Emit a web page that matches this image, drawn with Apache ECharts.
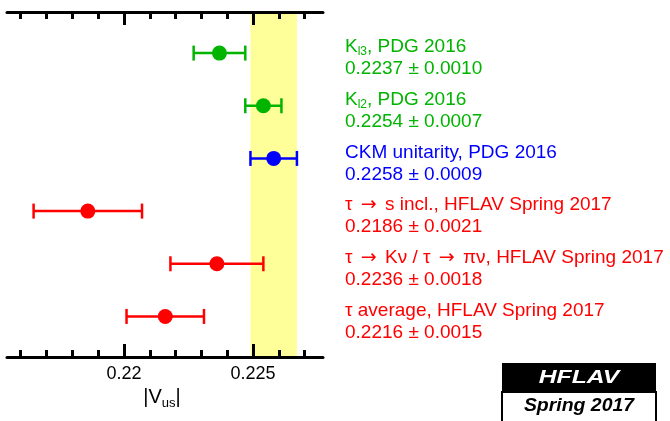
<!DOCTYPE html>
<html>
<head>
<meta charset="utf-8">
<script src="https://cdn.jsdelivr.net/npm/echarts@6/dist/echarts.min.js"></script>
<style>
  html, body { margin: 0; padding: 0; background: #fff; }
  #chart { width: 670px; height: 421px; }
</style>
</head>
<body>
<div id="chart"></div>
<script>
// measurements, top to bottom
const titles = [
    '{t|K}{s|l3}{t|, PDG 2016}',
    '{t|K}{s|l2}{t|, PDG 2016}',
    '{t|CKM unitarity, PDG 2016}',
    '{t|τ }{ar|→}{t| s incl., HFLAV Spring 2017}',
    '{t|τ }{ar|→}{t| Kν / τ }{ar|→}{t| πν, HFLAV Spring 2017}',
    '{t|τ average, HFLAV Spring 2017}'
];
const centralValues = [0.2237, 0.2254, 0.2258, 0.2186, 0.2236, 0.2216];
const errors = [0.0010, 0.0007, 0.0009, 0.0021, 0.0018, 0.0015];
const colors = ['#00b400', '#00b400', '#0000ff', '#ff0000', '#ff0000', '#ff0000'];

// band = CKM unitarity +- 1 sigma
const bandIndex = 2;

// axis ticks
const majorTicks = [0.22, 0.225];
const minorTicks = [0.216, 0.217, 0.218, 0.219, 0.221, 0.222, 0.223, 0.224, 0.226, 0.227];
const xMin = 0.21547, xMax = 0.22771;

const chart = echarts.init(document.getElementById('chart'), null, { renderer: 'canvas' });

const fontFam = '"Liberation Sans", Arial, sans-serif';
const gridBox = { left: 7, right: 347, top: 12, bottom: 64 };

function axisCfg(gridIndex, position, ticks, len, showLabel, showLine) {
    return {
        type: 'value', gridIndex: gridIndex, position: position, min: xMin, max: xMax, z: 5,
        axisLine: { show: showLine, onZero: false, lineStyle: { color: '#000', width: 3 } },
        axisTick: { show: true, inside: true, length: len, customValues: ticks, lineStyle: { color: '#000', width: 3 } },
        axisLabel: showLabel ? {
            show: true, customValues: ticks, margin: 8, color: '#000', fontSize: 18, fontFamily: fontFam,
            formatter: v => String(+v.toFixed(4))
        } : { show: false },
        splitLine: { show: false }
    };
}

const xBottom = axisCfg(0, 'bottom', majorTicks, 13, true, true);
xBottom.name = '{a||V}{s|us}{a||}';
xBottom.nameLocation = 'middle';
xBottom.nameGap = 27;
xBottom.nameTextStyle = {
    padding: [0, 6, 0, 0],
    rich: {
        a: { fontSize: 20, color: '#000', fontFamily: fontFam },
        s: { fontSize: 13, color: '#000', fontFamily: fontFam, padding: [12, 0, 0, 0] }
    }
};

const items = centralValues.map((v, i) => [v, i, errors[i]]);

const textRich = col => ({
    t: { fontSize: 19, fill: col, fontFamily: fontFam },
    ar: { fontSize: 19, fill: col, fontFamily: '"DejaVu Sans", sans-serif', padding: [0, 3, 0, 3] },
    s: { fontSize: 12, fill: col, fontFamily: fontFam, padding: [9, 0, 0, 0] }
});

chart.setOption({
    backgroundColor: '#fff',
    animation: false,
    grid: [gridBox, gridBox],
    xAxis: [
        xBottom,
        axisCfg(0, 'top', majorTicks, 13, false, true),
        axisCfg(1, 'bottom', minorTicks, 7, false, false),
        axisCfg(1, 'top', minorTicks, 7, false, false)
    ],
    yAxis: [
        { gridIndex: 0, type: 'value', min: -0.78, max: 5.77, inverse: true, show: false },
        { gridIndex: 1, type: 'value', min: -0.78, max: 5.77, inverse: true, show: false }
    ],
    series: [{
        type: 'custom',
        xAxisIndex: 0,
        yAxisIndex: 0,
        data: items,
        clip: false,
        markArea: {
            silent: true,
            itemStyle: { color: '#ffff99' },
            data: [[
                { xAxis: centralValues[bandIndex] - errors[bandIndex] },
                { xAxis: centralValues[bandIndex] + errors[bandIndex] }
            ]]
        },
        renderItem: (params, api) => {
            const i = params.dataIndex;
            const v = api.value(0), idx = api.value(1), e = api.value(2);
            const c = api.coord([v, idx]);
            const lo = api.coord([v - e, idx]);
            const hi = api.coord([v + e, idx]);
            const col = colors[i];
            const ls = { stroke: col, lineWidth: 2.5 };
            return {
                type: 'group',
                children: [
                    { type: 'line', shape: { x1: lo[0], y1: c[1], x2: hi[0], y2: c[1] }, style: ls },
                    { type: 'line', shape: { x1: lo[0], y1: c[1] - 7.5, x2: lo[0], y2: c[1] + 7.5 }, style: ls },
                    { type: 'line', shape: { x1: hi[0], y1: c[1] - 7.5, x2: hi[0], y2: c[1] + 7.5 }, style: ls },
                    { type: 'circle', shape: { cx: c[0], cy: c[1], r: 7.5 }, style: { fill: col } },
                    {
                        type: 'text',
                        style: {
                            x: 345, y: c[1] - 6, text: titles[i], verticalAlign: 'middle',
                            rich: textRich(col)
                        }
                    },
                    {
                        type: 'text',
                        style: {
                            x: 345, y: c[1] + 16, verticalAlign: 'middle',
                            text: v.toFixed(4) + ' ± ' + e.toFixed(4),
                            fill: col, fontSize: 19, fontFamily: fontFam
                        }
                    }
                ]
            };
        }
    }],
    graphic: [
        { type: 'rect', shape: { x: 502, y: 392, width: 154, height: 40 }, style: { fill: '#fff', stroke: '#000', lineWidth: 2 } },
        { type: 'rect', shape: { x: 502, y: 363, width: 154, height: 29 }, style: { fill: '#000' } },
        {
            type: 'text', x: 579, y: 378, scaleX: 1.3,
            style: { text: 'HFLAV', fill: '#fff', font: 'italic bold 19px ' + fontFam, align: 'center', verticalAlign: 'middle' }
        },
        {
            type: 'text', x: 579, y: 406, scaleX: 1.08,
            style: { text: 'Spring 2017', fill: '#000', font: 'italic bold 18px ' + fontFam, align: 'center', verticalAlign: 'middle' }
        }
    ]
});
</script>
</body>
</html>
